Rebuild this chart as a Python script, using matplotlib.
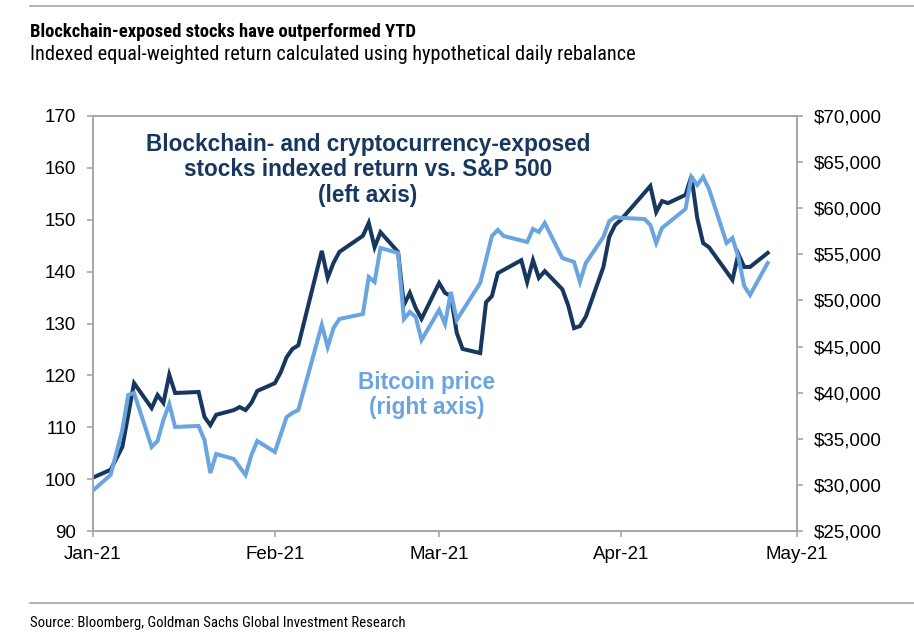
import matplotlib
matplotlib.use("Agg")
import matplotlib.pyplot as plt
import matplotlib.dates as mdates
import matplotlib.ticker as mticker
import numpy as np
import pandas as pd

# Blockchain/crypto-exposed stocks, indexed return (left axis)
stockDates = ["2021-01-01", "2021-01-04", "2021-01-06", "2021-01-08", "2021-01-11",
              "2021-01-12", "2021-01-13", "2021-01-14", "2021-01-15", "2021-01-19",
              "2021-01-20", "2021-01-21", "2021-01-22", "2021-01-25", "2021-01-26",
              "2021-01-27", "2021-01-28", "2021-01-29", "2021-02-01", "2021-02-02",
              "2021-02-03", "2021-02-04", "2021-02-05", "2021-02-09", "2021-02-10",
              "2021-02-11", "2021-02-12", "2021-02-16", "2021-02-17", "2021-02-18",
              "2021-02-19", "2021-02-22", "2021-02-23", "2021-02-24", "2021-02-25",
              "2021-02-26", "2021-03-01", "2021-03-02", "2021-03-03", "2021-03-04",
              "2021-03-05", "2021-03-08", "2021-03-09", "2021-03-10", "2021-03-11",
              "2021-03-15", "2021-03-16", "2021-03-17", "2021-03-18", "2021-03-19",
              "2021-03-22", "2021-03-23", "2021-03-24", "2021-03-25", "2021-03-26",
              "2021-03-29", "2021-03-30", "2021-03-31", "2021-04-01", "2021-04-06",
              "2021-04-07", "2021-04-08", "2021-04-09", "2021-04-12", "2021-04-13",
              "2021-04-14", "2021-04-15", "2021-04-16", "2021-04-20", "2021-04-21",
              "2021-04-22", "2021-04-23", "2021-04-26"]
stockIndex = [100.3, 101.8, 106.2, 118.5, 113.7,
              116.2, 114.7, 120.1, 116.6, 116.8,
              112.0, 110.4, 112.4, 113.3, 113.9,
              113.3, 114.7, 117.0, 118.5, 120.6,
              123.5, 125.1, 125.8, 144.0, 138.8,
              141.7, 143.8, 146.9, 149.4, 144.7,
              147.6, 143.8, 133.6, 135.9, 133.0,
              130.9, 137.8, 135.9, 135.3, 128.2,
              125.1, 124.3, 134.1, 135.3, 139.7,
              142.2, 138.0, 142.2, 138.8, 140.1,
              136.6, 133.5, 129.1, 129.5, 131.3,
              140.9, 146.7, 149.0, 150.0, 156.5,
              151.5, 153.6, 153.2, 154.8, 158.4,
              150.3, 145.5, 144.7, 138.4, 143.4,
              140.9, 140.9, 143.6]

# Bitcoin price in USD (right axis)
btcDates = ["2021-01-01", "2021-01-04", "2021-01-06", "2021-01-07", "2021-01-08",
            "2021-01-11", "2021-01-12", "2021-01-13", "2021-01-14", "2021-01-15",
            "2021-01-19", "2021-01-20", "2021-01-21", "2021-01-22", "2021-01-25",
            "2021-01-26", "2021-01-27", "2021-01-28", "2021-01-29", "2021-02-01",
            "2021-02-03", "2021-02-04", "2021-02-05", "2021-02-09", "2021-02-10",
            "2021-02-11", "2021-02-12", "2021-02-16", "2021-02-17", "2021-02-18",
            "2021-02-19", "2021-02-22", "2021-02-23", "2021-02-24", "2021-02-25",
            "2021-02-26", "2021-03-01", "2021-03-02", "2021-03-03", "2021-03-04",
            "2021-03-08", "2021-03-10", "2021-03-11", "2021-03-12", "2021-03-16",
            "2021-03-17", "2021-03-18", "2021-03-19", "2021-03-22", "2021-03-24",
            "2021-03-25", "2021-03-26", "2021-03-29", "2021-03-30", "2021-03-31",
            "2021-04-01", "2021-04-05", "2021-04-06", "2021-04-07", "2021-04-08",
            "2021-04-12", "2021-04-13", "2021-04-14", "2021-04-15", "2021-04-16",
            "2021-04-19", "2021-04-20", "2021-04-21", "2021-04-22", "2021-04-23",
            "2021-04-26"]
btcPrice = [29400, 31070, 35950, 39750, 39960,
            34110, 34760, 37040, 38770, 36280,
            36390, 34870, 31290, 33350, 32810,
            31940, 31070, 33240, 34760, 33570,
            37360, 37800, 38120, 47340, 44950,
            47010, 47990, 48530, 52540, 52000,
            55690, 55150, 47990, 48750, 48210,
            45710, 48960, 47450, 50920, 47880,
            51890, 56990, 57640, 56990, 56340,
            57750, 57420, 58400, 54600, 54170,
            52000, 54060, 56880, 58610, 59050,
            58950, 58830, 58180, 56230, 57860,
            59920, 63390, 62520, 63390, 62080,
            56230, 56770, 54710, 51570, 50590,
            54060]

darkBlue = "#17375e"
lightBlue = "#6aa5df"
frameGrey = "#a6a6a6"

# condensed face for header / footer, Arial-like for the chart itself
narrow = ["Liberation Sans Narrow", "Roboto Condensed", "Archivo Narrow", "DejaVu Sans"]
plt.rcParams["font.family"] = ["Liberation Sans", "DejaVu Sans"]

fig = plt.figure(figsize=(9.14, 6.42), dpi=100)
ax = fig.add_axes([93 / 914, 1 - 531 / 642, 704 / 914, 415 / 642])
ax2 = ax.twinx()

ax.plot(pd.to_datetime(stockDates), stockIndex, color=darkBlue, linewidth=2.9,
        solid_joinstyle="miter")
ax2.plot(pd.to_datetime(btcDates), btcPrice, color=lightBlue, linewidth=2.9,
         solid_joinstyle="miter")

ax.set_xlim(pd.Timestamp("2021-01-01"), pd.Timestamp("2021-05-01"))
ax.set_ylim(90, 170)
ax.set_yticks(np.arange(90, 171, 10))
ax2.set_ylim(25000, 70000)
ax2.set_yticks(np.arange(25000, 70001, 5000))
ax2.yaxis.set_major_formatter(mticker.FuncFormatter(lambda v, p: "${:,.0f}".format(v)))

ax.xaxis.set_major_locator(mdates.MonthLocator())
ax.xaxis.set_major_formatter(mdates.DateFormatter("%b-%y"))

for a in (ax, ax2):
    for s in a.spines.values():
        s.set_color(frameGrey)
        s.set_linewidth(1.2)
    a.tick_params(colors=frameGrey, labelcolor="black", labelsize=13.5,
                  length=4, width=1.2)
ax.tick_params(axis="y", pad=8)
ax.tick_params(axis="x", pad=7)
ax2.tick_params(axis="y", pad=8)

# Series labels
ax.text(0.3906, 0.8699,
        "Blockchain- and cryptocurrency-exposed\nstocks indexed return vs. S&P 500\n(left axis)",
        transform=ax.transAxes, ha="center", va="center", color=darkBlue,
        fontsize=16.3, fontweight="bold", linespacing=1.16)
ax.text(0.4744, 0.3277, "Bitcoin price\n(right axis)",
        transform=ax.transAxes, ha="center", va="center", color=lightBlue,
        fontsize=16.3, fontweight="bold", linespacing=1.16)

# Header, footer and rules
fig.add_artist(plt.Line2D([30 / 914, 1], [1 - 6 / 642] * 2, color=frameGrey, linewidth=1.2))
fig.add_artist(plt.Line2D([30 / 914, 1], [1 - 603 / 642] * 2, color=frameGrey, linewidth=1.2))
fig.text(30 / 914, 1 - 37 / 642, "Blockchain-exposed stocks have outperformed YTD",
         family=narrow, fontsize=13.4, fontweight="bold", va="baseline")
fig.text(30 / 914, 1 - 60 / 642,
         "Indexed equal-weighted return calculated using hypothetical daily rebalance",
         family=narrow, fontsize=14.6, va="baseline")
fig.text(30 / 914, 1 - 627 / 642, "Source: Bloomberg, Goldman Sachs Global Investment Research",
         family=narrow, fontsize=10.6, va="baseline")

fig.savefig("out.png", dpi=100)
